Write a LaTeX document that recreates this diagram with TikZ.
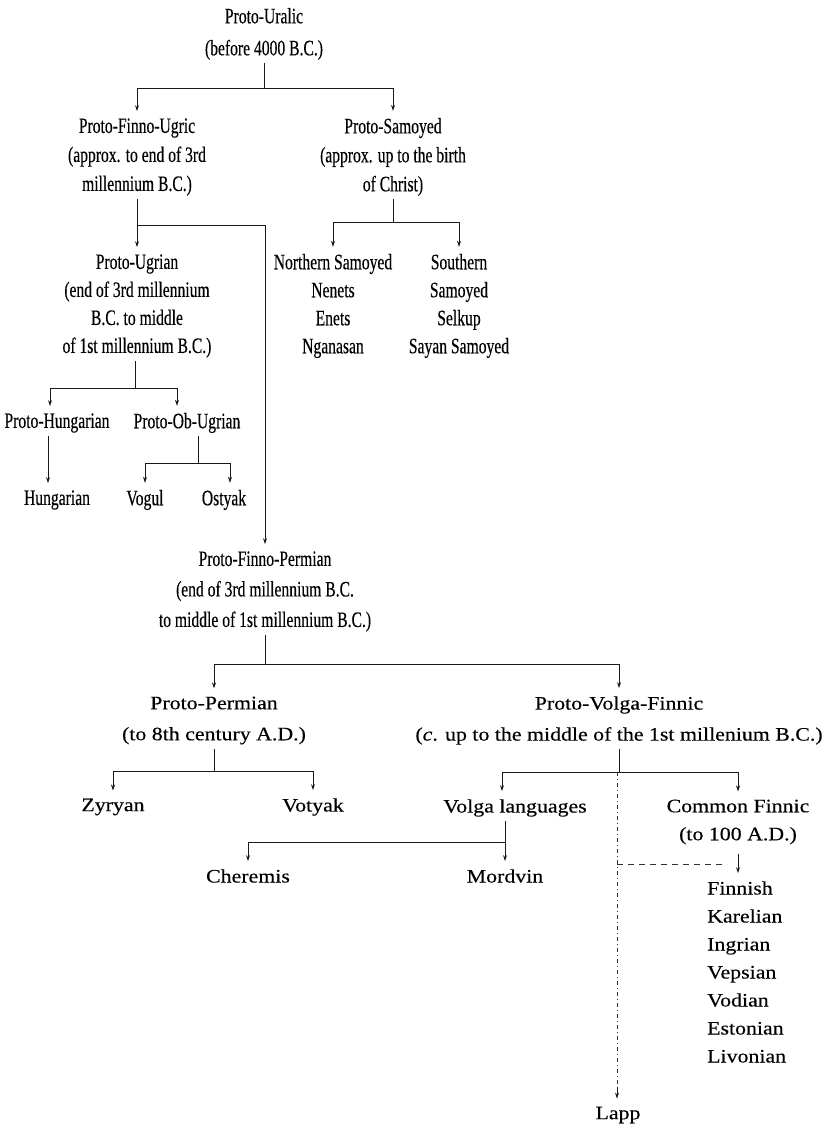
\documentclass[tikz,border=0pt]{standalone}
\usepackage{fontspec}
\setmainfont{Liberation Serif}
\newfontfamily\upfont[FakeStretch=0.71,FakeBold=0.3]{Liberation Serif}
\newfontfamily\lowfont[FakeStretch=1.15,FakeBold=0.3]{Liberation Serif}
\usetikzlibrary{arrows.meta}
\begin{document}
\begin{tikzpicture}[x=1pt,y=-1pt,
  up/.style={font={\upfont\fontsize{22}{29}\selectfont}, align=center, inner sep=3pt},
  upA/.style={up, font={\upfont\fontsize{22}{32}\selectfont}},
  upB/.style={up, font={\upfont\fontsize{22}{28}\selectfont}},
  upC/.style={up, font={\upfont\fontsize{22}{30.5}\selectfont}},
  lo/.style={font={\lowfont\fontsize{19}{31}\selectfont}, align=center, inner sep=4pt},
  loB/.style={lo, font={\lowfont\fontsize{19}{28}\selectfont}},
  conn/.style={line width=0.9pt, draw=black!90},
  arr/.style={conn, -{Stealth[length=6pt,width=4pt]}, shorten >=4pt},
  dotline/.style={line width=0.7pt, draw=black!80, dash pattern=on 4pt off 3pt on 1pt off 3pt},
  dashline/.style={line width=0.7pt, draw=black!80, dash pattern=on 6pt off 5pt}]
\useasboundingbox (0,0) rectangle (823,1131);

% nodes
\node[upA] (pu) at (264,34) {Proto-Uralic\\(before 4000 B.C.)};
\node[up] (pfu) at (137,157) {Proto-Finno-Ugric\\(approx. to end of 3rd\\millennium B.C.)};
\node[up] (psam) at (393,157) {Proto-Samoyed\\(approx. up to the birth\\of Christ)};
\node[upB] (nsam) at (333,306) {Northern Samoyed\\Nenets\\Enets\\Nganasan};
\node[upB] (ssam) at (459,306) {Southern\\Samoyed\\Selkup\\Sayan Samoyed};
\node[upB] (pug) at (137,306) {Proto-Ugrian\\(end of 3rd millennium\\B.C. to middle\\of 1st millennium B.C.)};
\node[up] (phun) at (57,423) {Proto-Hungarian};
\node[up] (pob) at (187,423) {Proto-Ob-Ugrian};
\node[up] (hun) at (57,500) {Hungarian};
\node[up] (vog) at (145,500) {Vogul};
\node[up] (ost) at (224,500) {Ostyak};
\node[upC] (pfp) at (265,591.5) {Proto-Finno-Permian\\(end of 3rd millennium B.C.\\to middle of 1st millennium B.C.)};
\node[lo] (pperm) at (214,720.5) {Proto-Permian\\(to 8th century A.D.)};
\node[lo] (pvf) at (619,720.5) {Proto-Volga-Finnic\\(\textit{c}. up to the middle of the 1st millenium B.C.)};
\node[lo] (zyr) at (113,807) {Zyryan};
\node[lo] (vot) at (313,807) {Votyak};
\node[lo] (vl) at (515,808) {Volga languages};
\node[loB] (cf) at (738,822) {Common Finnic\\(to 100 A.D.)};
\node[lo] (cher) at (248,876) {Cheremis};
\node[lo] (mord) at (505,876) {Mordvin};
\node[loB, align=left, anchor=west] (fin) at (703,972) {Finnish\\Karelian\\Ingrian\\Vepsian\\Vodian\\Estonian\\Livonian};
\node[lo] (lapp) at (618,1115) {Lapp};

% junction points
\coordinate (j1) at (264,88);
\coordinate (j2) at (137,225);
\coordinate (j3) at (393,222);
\coordinate (j4) at (137,388);
\coordinate (j4l) at (50,388);
\coordinate (j4r) at (177,388);
\coordinate (j5) at (198,463);
\coordinate (j6) at (265,664);
\coordinate (j7) at (213,771);
\coordinate (j8) at (617,772);
\coordinate (j8l) at (502,772);
\coordinate (j9) at (505,842);
\coordinate (l1) at (617,1087);
\coordinate (d1) at (617,864);
\coordinate (d2) at (727,864);

% Proto-Uralic
\draw[conn] (pu.south) -- (j1);
\draw[conn] (pfu.north |- j1) -- (psam.north |- j1);
\draw[arr] (pfu.north |- j1) -- (pfu.north);
\draw[arr] (psam.north |- j1) -- (psam.north);

% Proto-Finno-Ugric
\draw[conn] (pfu.south) -- (j2) -- (j2 -| pfp.north);
\draw[arr] (j2) -- (pug.north);
\draw[arr] (j2 -| pfp.north) -- (pfp.north);

% Proto-Samoyed
\draw[conn] (psam.south) -- (j3);
\draw[conn] (j3 -| nsam.north) -- (j3 -| ssam.north);
\draw[arr] (j3 -| nsam.north) -- (nsam.north);
\draw[arr] (j3 -| ssam.north) -- (ssam.north);

% Proto-Ugrian
\draw[conn] ([xshift=-2]pug.south) -- ([xshift=-2]j4);
\draw[conn] (j4l) -- (j4r);
\draw[arr] (j4l) -- (j4l |- phun.north);
\draw[arr] (j4r) -- (j4r |- pob.north);

% Proto-Hungarian
\draw[arr] ([xshift=-9]phun.south) -- ([xshift=-9]hun.north);

% Proto-Ob-Ugrian
\draw[conn] ([xshift=11]pob.south) -- (j5);
\draw[conn] (j5 -| vog.north) -- ([xshift=6]j5 -| ost.north);
\draw[arr] (j5 -| vog.north) -- (vog.north);
\draw[arr] ([xshift=6]j5 -| ost.north) -- ([xshift=6]ost.north);

% Proto-Finno-Permian
\draw[conn] (pfp.south) -- (j6);
\draw[conn] (j6 -| pperm.north) -- (j6 -| pvf.north);
\draw[arr] (j6 -| pperm.north) -- (pperm.north);
\draw[arr] (j6 -| pvf.north) -- (pvf.north);

% Proto-Permian
\draw[conn] (pperm.south) -- (pperm.south |- j7);
\draw[conn] (j7 -| zyr.north) -- (j7 -| vot.north);
\draw[arr] (j7 -| zyr.north) -- (zyr.north);
\draw[arr] (j7 -| vot.north) -- (vot.north);

% Proto-Volga-Finnic
\draw[conn] (pvf.south) -- (pvf.south |- j8);
\draw[conn] (j8l) -- (j8 -| cf.north);
\draw[arr] (j8l) -- (j8l |- vl.north);
\draw[arr] (j8 -| cf.north) -- (cf.north);
\draw[dotline] (j8) -- (l1);
\draw[arr] (l1) -- (l1 |- lapp.north);

% Volga languages
\draw[conn] ([xshift=-10]vl.south) -- (j9);
\draw[conn] (j9 -| cher.north) -- (j9);
\draw[arr] (j9 -| cher.north) -- (cher.north);
\draw[arr] (j9) -- (mord.north);

% Common Finnic
\draw[dashline] (d1) -- (d2);
\draw[arr, shorten <=5pt] (cf.south) -- (cf.south |- fin.north);
\end{tikzpicture}
\end{document}
